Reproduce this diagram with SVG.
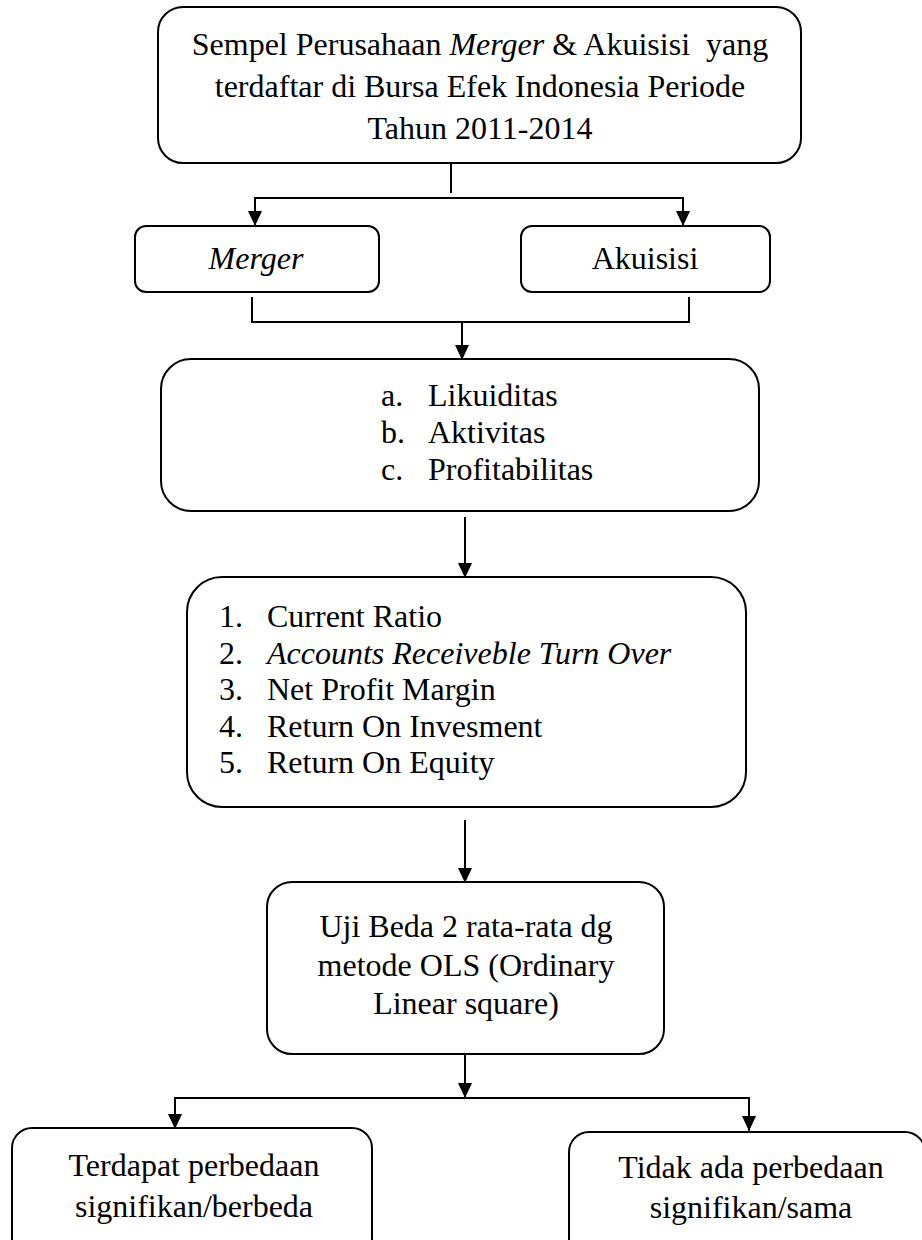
<svg xmlns="http://www.w3.org/2000/svg" width="922" height="1240" viewBox="0 0 922 1240">
<style>
.box{fill:#fff;stroke:#000;stroke-width:2}
.ln{fill:none;stroke:#000;stroke-width:2}
text{font-family:"Liberation Serif","Times New Roman",serif;font-size:32px;fill:#000}
.c{text-anchor:middle}
.i{font-style:italic}
</style>
<defs>
<marker id="ah" viewBox="0 0 15 14" refX="15" refY="7" markerWidth="15" markerHeight="14" markerUnits="userSpaceOnUse" orient="auto">
<path d="M0,0 L15,7 L0,14 z" fill="#000"/>
</marker>
</defs>
<rect width="922" height="1240" fill="#fff"/>
<g id="connectors">
<line class="ln" x1="451" y1="163" x2="451" y2="193"/>
<line class="ln" x1="255" y1="198" x2="683" y2="198"/>
<line class="ln" x1="255" y1="197" x2="255" y2="226" marker-end="url(#ah)"/>
<line class="ln" x1="683" y1="197" x2="683" y2="226" marker-end="url(#ah)"/>
<path class="ln" d="M252 297 V322 H689 V297"/>
<line class="ln" x1="462" y1="322" x2="462" y2="360" marker-end="url(#ah)"/>
<line class="ln" x1="465" y1="517" x2="465" y2="578" marker-end="url(#ah)"/>
<line class="ln" x1="465" y1="820" x2="465" y2="883" marker-end="url(#ah)"/>
<line class="ln" x1="465" y1="1054" x2="465" y2="1098" marker-end="url(#ah)"/>
<line class="ln" x1="175" y1="1098" x2="749" y2="1098"/>
<line class="ln" x1="175" y1="1097" x2="175" y2="1129" marker-end="url(#ah)"/>
<line class="ln" x1="749" y1="1097" x2="749" y2="1131" marker-end="url(#ah)"/>
</g>
<g id="sample">
<rect class="box" x="158" y="7" width="643" height="156" rx="25"/>
<text class="c" x="480" y="55" xml:space="preserve">Sempel Perusahaan <tspan class="i">Merger</tspan> &amp; Akuisisi  yang</text>
<text class="c" x="480" y="97">terdaftar di Bursa Efek Indonesia Periode</text>
<text class="c" x="480" y="139">Tahun 2011-2014</text>
</g>
<g id="merger">
<rect class="box" x="135" y="226" width="244" height="66" rx="11"/>
<text class="c i" x="256" y="269">Merger</text>
</g>
<g id="akuisisi">
<rect class="box" x="521" y="226" width="249" height="66" rx="11"/>
<text class="c" x="645" y="269">Akuisisi</text>
</g>
<g id="rasio">
<rect class="box" x="161" y="359" width="598" height="152" rx="30"/>
<text x="381" y="406">a.</text><text x="428" y="406">Likuiditas</text>
<text x="381" y="443">b.</text><text x="428" y="443">Aktivitas</text>
<text x="381" y="480">c.</text><text x="428" y="480">Profitabilitas</text>
</g>
<g id="indikator">
<rect class="box" x="187" y="577" width="559" height="230" rx="35"/>
<text x="219" y="627">1.</text><text x="267" y="627">Current Ratio</text>
<text x="219" y="663.5">2.</text><text class="i" x="267" y="663.5">Accounts Receiveble Turn Over</text>
<text x="219" y="700">3.</text><text x="267" y="700">Net Profit Margin</text>
<text x="219" y="737">4.</text><text x="267" y="737">Return On Invesment</text>
<text x="219" y="773">5.</text><text x="267" y="773">Return On Equity</text>
</g>
<g id="uji">
<rect class="box" x="267" y="882" width="397" height="172" rx="25"/>
<text class="c" x="466" y="937">Uji Beda 2 rata-rata dg</text>
<text class="c" x="466" y="975.5">metode OLS (Ordinary</text>
<text class="c" x="466" y="1014">Linear square)</text>
</g>
<g id="berbeda">
<rect class="box" x="12" y="1128" width="360" height="130" rx="20"/>
<text class="c" x="194" y="1176">Terdapat perbedaan</text>
<text class="c" x="194" y="1217">signifikan/berbeda</text>
</g>
<g id="sama">
<rect class="box" x="569" y="1132" width="356" height="130" rx="20"/>
<text class="c" x="751" y="1178">Tidak ada perbedaan</text>
<text class="c" x="751" y="1218">signifikan/sama</text>
</g>
</svg>
